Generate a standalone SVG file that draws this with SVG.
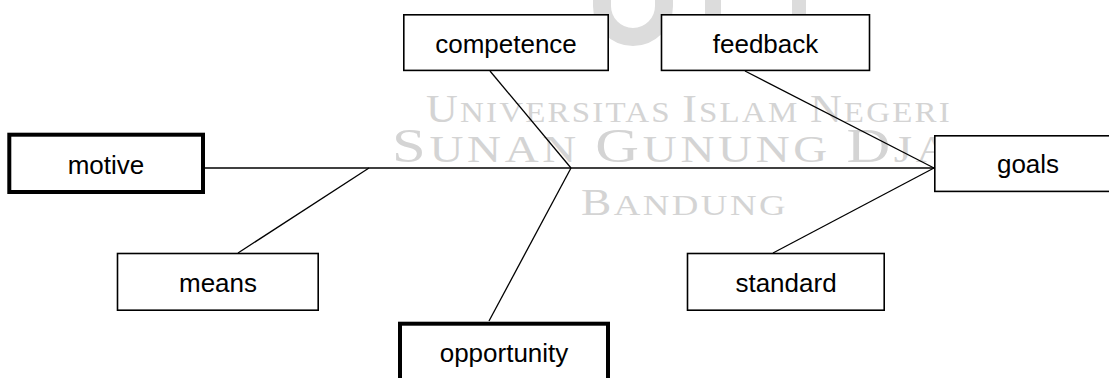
<svg xmlns="http://www.w3.org/2000/svg" width="1109" height="378" viewBox="0 0 1109 378">
  <style>
    .box { fill: #ffffff; stroke: #000000; stroke-width: 1.6; }
    .thick { fill: #ffffff; stroke: #000000; stroke-width: 4; }
    .label { font-family: "Liberation Sans", Arial, sans-serif; font-size: 26px; fill: #000000; text-anchor: middle; }
    .conn { stroke: #000000; stroke-width: 1.3; fill: none; }
    .wm { font-family: "Liberation Serif", "DejaVu Serif", serif; fill: #d4d4d4; }
    .wmshape { fill: none; stroke: #dcdcdc; }
  </style>
  <rect x="0" y="0" width="1109" height="378" fill="#ffffff"/>

  <g id="watermark">
    <path class="wmshape" stroke-width="18" d="M 602 -10 L 602 6 A 31 31 0 0 0 664 6 L 664 -10"/>
    <rect x="705" y="0" width="16" height="14" fill="#dcdcdc"/>
    <rect x="792" y="0" width="14" height="14" fill="#dcdcdc"/>
    <text class="wm" x="426" y="122" textLength="526" lengthAdjust="spacingAndGlyphs" letter-spacing="2"><tspan font-size="40">U</tspan><tspan font-size="30">NIVERSITAS </tspan><tspan font-size="40">I</tspan><tspan font-size="30">SLAM </tspan><tspan font-size="40">N</tspan><tspan font-size="30">EGERI</tspan></text>
    <text class="wm" x="392" y="162" textLength="608" lengthAdjust="spacingAndGlyphs" letter-spacing="3"><tspan font-size="49">S</tspan><tspan font-size="38">UNAN </tspan><tspan font-size="49">G</tspan><tspan font-size="38">UNUNG </tspan><tspan font-size="49">D</tspan><tspan font-size="38">JATI</tspan></text>
    <text class="wm" x="581" y="215" textLength="207" lengthAdjust="spacingAndGlyphs" letter-spacing="2"><tspan font-size="37">B</tspan><tspan font-size="30">ANDUNG</tspan></text>
  </g>

  <g id="connectors">
    <line class="conn" x1="205" y1="168" x2="934" y2="168"/>
    <line class="conn" x1="490" y1="71" x2="571" y2="168"/>
    <line class="conn" x1="571" y1="168" x2="489" y2="321"/>
    <line class="conn" x1="369" y1="168" x2="238" y2="253"/>
    <line class="conn" x1="745" y1="71" x2="934" y2="168"/>
    <line class="conn" x1="934" y1="168" x2="773" y2="253"/>
  </g>

  <g id="node-motive">
    <rect class="thick" x="9.3" y="134.7" width="193.7" height="57.3"/>
    <text class="label" x="106" y="174">motive</text>
  </g>
  <g id="node-competence">
    <rect class="box" x="403.8" y="14.8" width="204.4" height="55.6"/>
    <text class="label" x="506" y="53">competence</text>
  </g>
  <g id="node-feedback">
    <rect class="box" x="661.5" y="14.8" width="208" height="55.6"/>
    <text class="label" x="765.5" y="53">feedback</text>
  </g>
  <g id="node-goals">
    <rect class="box" x="934.8" y="135.8" width="188" height="55.6"/>
    <text class="label" x="1028" y="173">goals</text>
  </g>
  <g id="node-means">
    <rect class="box" x="117.5" y="253.5" width="200.7" height="56.7"/>
    <text class="label" x="218" y="292">means</text>
  </g>
  <g id="node-opportunity">
    <rect class="thick" x="400" y="323.7" width="208" height="62"/>
    <text class="label" x="504" y="362">opportunity</text>
  </g>
  <g id="node-standard">
    <rect class="box" x="687.5" y="253.5" width="196.7" height="56.7"/>
    <text class="label" x="786" y="292">standard</text>
  </g>
</svg>
